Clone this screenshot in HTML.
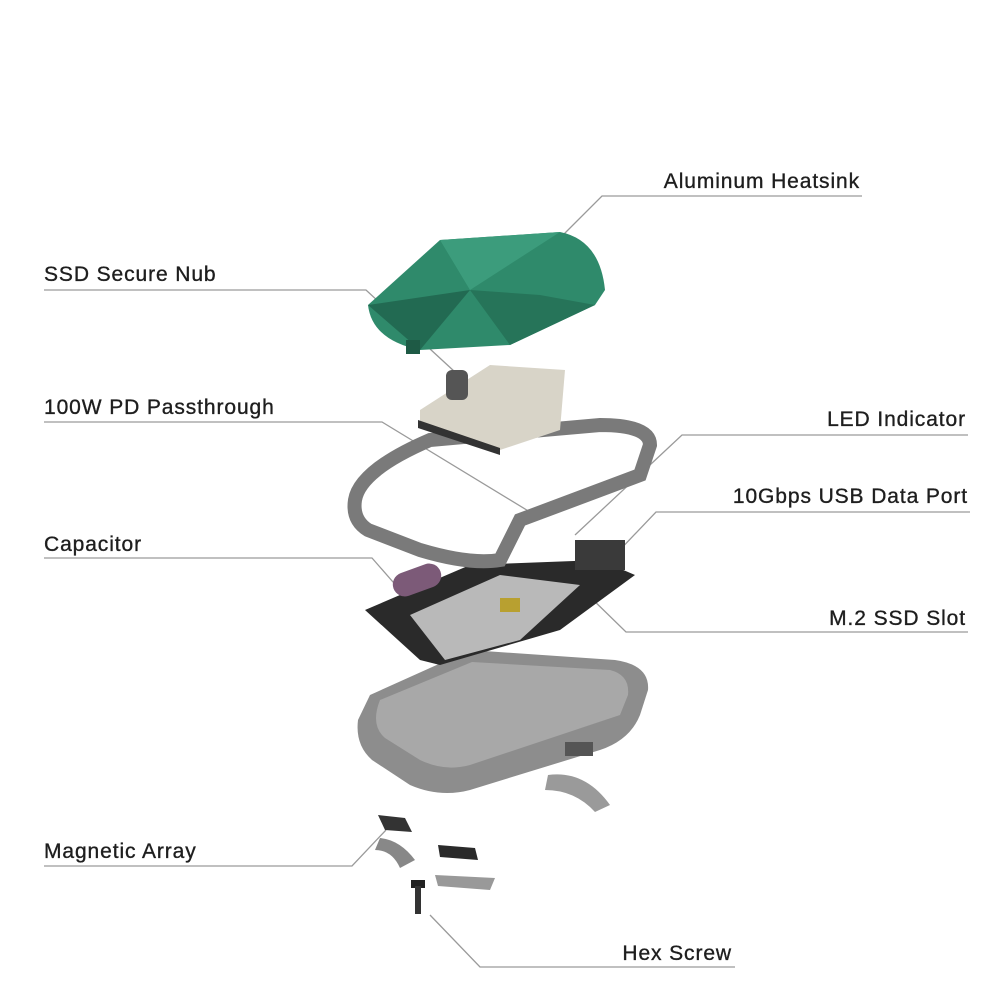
<!DOCTYPE html>
<html><head><meta charset="utf-8"><style>
html,body{margin:0;padding:0;background:#fff;}
svg{display:block}
text{font-family:"Liberation Sans",sans-serif;font-size:21px;fill:#1e1e1e;letter-spacing:0.9px;stroke:#1e1e1e;stroke-width:0.35px;}
.r{text-anchor:end}
</style></head><body>
<svg width="1000" height="1000" viewBox="0 0 1000 1000">
<g stroke="#9a9a9a" stroke-width="1.3" fill="none">
<polyline points="862,196 602,196 548,250"/>
<polyline points="44,290 366,290 455,372"/>
<polyline points="44,422 382,422 530,512"/>
<polyline points="968,435 682,435 575,535"/>
<polyline points="970,512 656,512 615,555"/>
<polyline points="44,558 372,558 400,590"/>
<polyline points="968,632 626,632 585,592"/>
<polyline points="44,866 352,866 386,830"/>
<polyline points="735,967 480,967 430,915"/>
</g>
<text x="860" y="188" class="r">Aluminum Heatsink</text>
<text x="44" y="281">SSD Secure Nub</text>
<text x="44" y="414">100W PD Passthrough</text>
<text x="966" y="426" class="r">LED Indicator</text>
<text x="968" y="503" class="r">10Gbps USB Data Port</text>
<text x="44" y="551">Capacitor</text>
<text x="966" y="625" class="r">M.2 SSD Slot</text>
<text x="44" y="858">Magnetic Array</text>
<text x="732" y="960" class="r">Hex Screw</text>

<!-- bottom shell -->
<path d="M370,695 L470,650 L615,660 Q650,665 648,690 L640,715 Q630,740 600,750 L470,790 Q440,798 410,785 L372,760 Q355,745 358,720 Z" fill="#8d8d8d"/>
<path d="M380,700 L472,662 L610,670 Q630,675 628,695 L620,715 L470,765 Q445,772 420,760 L385,738 Q370,725 380,700 Z" fill="#a8a8a8"/>
<path d="M548,775 Q585,770 610,805 L595,812 Q575,790 545,790 Z" fill="#9a9a9a"/>
<rect x="565" y="742" width="28" height="14" fill="#555"/>
<!-- board -->
<path d="M365,610 L470,565 L600,560 L635,575 L560,630 L440,665 L420,660 Z" fill="#2a2a2a"/>
<path d="M410,615 L500,575 L580,585 L520,640 L445,660 Z" fill="#b9b9b9"/>
<rect x="500" y="598" width="20" height="14" fill="#b8a030"/>
<rect x="392" y="568" width="50" height="24" rx="12" fill="#7c5a78" transform="rotate(-20 417 580)"/>
<rect x="575" y="540" width="50" height="30" fill="#3a3a3a"/>
<!-- frame -->
<path d="M355,500 Q360,470 430,440 L600,425 Q650,425 650,445 L640,475 L520,520 L500,560 Q470,565 420,550 L368,530 Q352,520 355,500 Z" fill="none" stroke="#7a7a7a" stroke-width="14"/>
<!-- small board & nub -->
<path d="M420,410 L490,365 L565,370 L560,430 L500,450 L420,425 Z" fill="#d8d4c8"/>
<path d="M418,420 L500,448 L500,455 L418,428 Z" fill="#333"/>
<rect x="446" y="370" width="22" height="30" rx="6" fill="#555"/>
<!-- heatsink -->
<path d="M368,305 L440,240 L560,232 Q600,240 605,290 L595,305 L510,345 L420,350 Q372,340 368,305 Z" fill="#2f8a6b"/>
<path d="M440,240 L470,290 L560,232 Z" fill="#3c9c7c"/>
<path d="M470,290 L510,345 L595,305 L540,295 Z" fill="#267459"/>
<path d="M368,305 L420,350 L470,290 Z" fill="#226a52"/>
<rect x="406" y="340" width="14" height="14" fill="#1e5a45"/>
<!-- magnets -->
<path d="M378,815 L405,818 L412,832 L385,830 Z" fill="#333"/>
<path d="M380,838 Q400,840 415,860 L400,868 Q392,850 375,850 Z" fill="#888"/>
<path d="M438,845 L475,848 L478,860 L440,857 Z" fill="#2a2a2a"/>
<path d="M435,875 L495,878 L490,890 L438,886 Z" fill="#999"/>
<!-- screw -->
<rect x="411" y="880" width="14" height="8" fill="#222"/>
<rect x="415" y="886" width="6" height="28" fill="#333"/>
</svg>
</body></html>
